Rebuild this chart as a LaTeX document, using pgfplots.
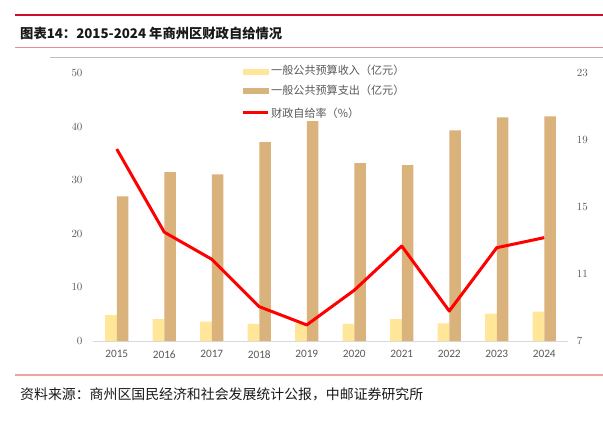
\documentclass[border=0pt]{standalone}
\usepackage{pgfplots}
\pgfplotsset{compat=1.18}
\usepackage{fontspec}
\setmainfont{Carlito}
\newfontfamily\cjk{Noto Sans CJK SC}
\definecolor{incomeC}{RGB}{255,230,153}
\definecolor{expC}{RGB}{218,178,123}
\definecolor{tickgray}{RGB}{89,89,89}
\definecolor{topred}{RGB}{200,16,46}
\definecolor{pinkline}{RGB}{236,140,140}
\definecolor{axisgray}{RGB}{217,217,217}
\begin{document}
\begin{tikzpicture}[x=1pt,y=1pt]
\useasboundingbox (0,0) rectangle (603,421);
\fill[white] (0,0) rectangle (603,421);
\draw[line width=2pt, topred] (15,405.5) -- (603,405.5);
\node[anchor=west, inner sep=0pt, text=black!90] at (20,388) {\cjk\bfseries\fontsize{13.3}{16}\selectfont 图表14：2015-2024 年商州区财政自给情况};
\draw[line width=1pt, pinkline] (15,373.7) -- (603,373.7);
\draw[line width=0.8pt, black!25] (50,363.7) -- (603,363.7);
\draw[line width=1.5pt, pinkline!80] (15,46) -- (603,46);
\node[anchor=west, inner sep=0pt, text=black!90] at (20,27) {\cjk\fontsize{13.9}{16}\selectfont 资料来源：商州区国民经济和社会发展统计公报，中邮证券研究所};

\begin{axis}[
  at={(93pt,80pt)}, anchor=south west,
  scale only axis, width=475pt, height=268pt,
  xmin=-0.5, xmax=9.5, ymin=0, ymax=50,
  ytick={0,10,20,30,40,50},
  xtick={0,1,2,3,4,5,6,7,8,9},
  xticklabels={2015,2016,2017,2018,2019,2020,2021,2022,2023,2024},
  axis x line*=bottom, axis y line*=left,
  x axis line style={-, draw=axisgray, line width=1pt},
  y axis line style={draw=none},
  major tick length=0pt,
  tick label style={font=\fontsize{11.3}{13}\selectfont, text=tickgray},
  yticklabel style={xshift=-7pt},
  xticklabel style={yshift=-6pt},
  ybar, bar width=11.7pt,
]
\addplot[fill=incomeC, draw=none, bar shift=-5.85pt] coordinates {
(0,4.85) (1,4.1) (2,3.6) (3,3.2) (4,3.3) (5,3.2) (6,4.1) (7,3.3) (8,5.1) (9,5.5)};
\addplot[fill=expC, draw=none, bar shift=5.85pt] coordinates {
(0,27.0) (1,31.5) (2,31.1) (3,37.1) (4,41.0) (5,33.2) (6,32.8) (7,39.3) (8,41.7) (9,41.9)};
\end{axis}

\begin{axis}[
  at={(93pt,80pt)}, anchor=south west,
  scale only axis, width=475pt, height=268pt,
  xmin=-0.5, xmax=9.5, ymin=7, ymax=23,
  ytick={7,11,15,19,23},
  axis x line=none, axis y line*=right,
  y axis line style={draw=none},
  major tick length=0pt,
  tick label style={font=\fontsize{11.3}{13}\selectfont, text=tickgray},
  yticklabel style={xshift=5.3pt},
  legend cell align=left,
  legend style={at={(0.3116,1.035)}, anchor=north west, draw=none, fill=none,
    inner sep=0pt, row sep=3.8pt,
    nodes={inner sep=2pt, text height=9pt, text depth=2.5pt,
      font=\cjk\fontsize{11.1}{13}\selectfont, text=tickgray}},
]
\addlegendimage{legend image code/.code={\fill[incomeC] (0pt,-2.5pt) rectangle (25pt,2.5pt);}}
\addlegendentry{一般公共预算收入（亿元）}
\addlegendimage{legend image code/.code={\fill[expC] (0pt,-2.5pt) rectangle (25pt,2.5pt);}}
\addlegendentry{一般公共预算支出（亿元）}
\addplot[red, line width=3pt, mark=none, line join=round,
  legend image code/.code={\draw[red, line width=3pt] (0pt,0pt) -- (25pt,0pt);}] coordinates {
(0,18.46) (1,13.5) (2,11.88) (3,9.05) (4,7.96) (5,10.03) (6,12.67) (7,8.79) (8,12.57) (9,13.17)};
\addlegendentry[text height=12.7pt]{财政自给率（\%）}
\end{axis}
\end{tikzpicture}
\end{document}
